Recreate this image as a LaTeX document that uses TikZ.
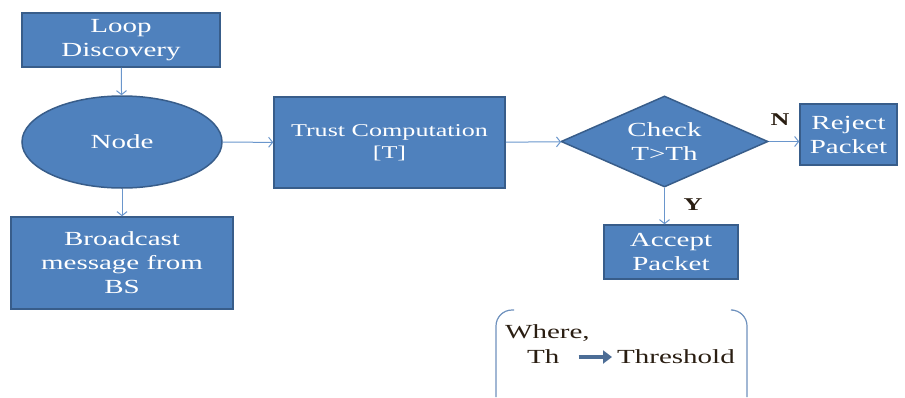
\documentclass[tikz,border=0pt]{standalone}
\usepackage{fontspec}
\setmainfont{Liberation Serif}[FakeStretch=1.45]
\usetikzlibrary{shapes.geometric,arrows.meta}
\definecolor{boxblue}{HTML}{4F81BD}
\definecolor{rimblue}{HTML}{385D8A}
\definecolor{lineblue}{HTML}{6A96CC}
\definecolor{darktext}{HTML}{2A1E12}
\begin{document}
\begin{tikzpicture}[x=1pt,y=-1pt,
  box/.style={draw=rimblue,fill=boxblue,line width=1.5pt,text=white,align=center,
    inner sep=0pt,font=\fontsize{20}{24}\selectfont},
  flow/.style={draw=lineblue,line width=1pt,-{Straight Barb[length=4pt,width=10pt]}},
  yesno/.style={text=darktext,font=\fontsize{18}{20}\selectfont\bfseries},
  legend/.style={text=darktext,inner sep=0pt,anchor=west,font=\fontsize{20}{24}\selectfont},
  bracket/.style={draw=lineblue!80!gray,line width=1.2pt,rounded corners=16pt}]
\useasboundingbox (0,0) rectangle (905,397);
% left column
\node[box,minimum width=198pt,minimum height=54pt] (loop) at (121,40) {Loop\\Discovery};
\node[box,ellipse,minimum width=200pt,minimum height=92pt] (node) at (122,142) {Node};
\node[box,minimum width=222pt,minimum height=92pt] (bcast) at (122,263) {Broadcast\\message from\\BS};
% trust and decision
\node[box,minimum width=231pt,minimum height=91pt,font=\fontsize{18}{22}\selectfont] (trust) at (389.5,142.5) {Trust Computation\\{[T]}};
\node[box,diamond,aspect=2.27,minimum width=207pt,minimum height=91pt] (check) at (664.5,141.5) {Check\\T>Th};
\node[box,minimum width=97pt,minimum height=61pt] (reject) at (848.5,134.5) {Reject\\Packet};
\node[box,minimum width=134pt,minimum height=54pt] (accept) at (671,252) {Accept\\Packet};
\draw[flow] (loop) -- (node);
\draw[flow] (node) -- (bcast);
\draw[flow] (node) -- (trust);
\draw[flow] (trust) -- (check);
\draw[flow] (check.east) -- (check.east -| reject.west);
\draw[flow] (check.south) -- (check.south |- accept.north);
\node[yesno] (no) at (780,120) {N};
\node[yesno] (yes) at (693,205) {Y};
% legend
\draw[bracket] (514,310) -- (496,310) -- (496,397);
\draw[bracket] (733,310) -- (747,310) -- (747,397);
\node[legend] (where) at (505,333) {Where,};
\node[legend] (th) at (527,357) {Th};
\node[legend] (thr) at (617,357) {Threshold};
\draw[draw=rimblue!90,line width=4pt,-{Triangle[length=9pt,width=13pt]},shorten <=19pt,shorten >=5pt] (th.east) -- (thr.west);
\end{tikzpicture}
\end{document}
